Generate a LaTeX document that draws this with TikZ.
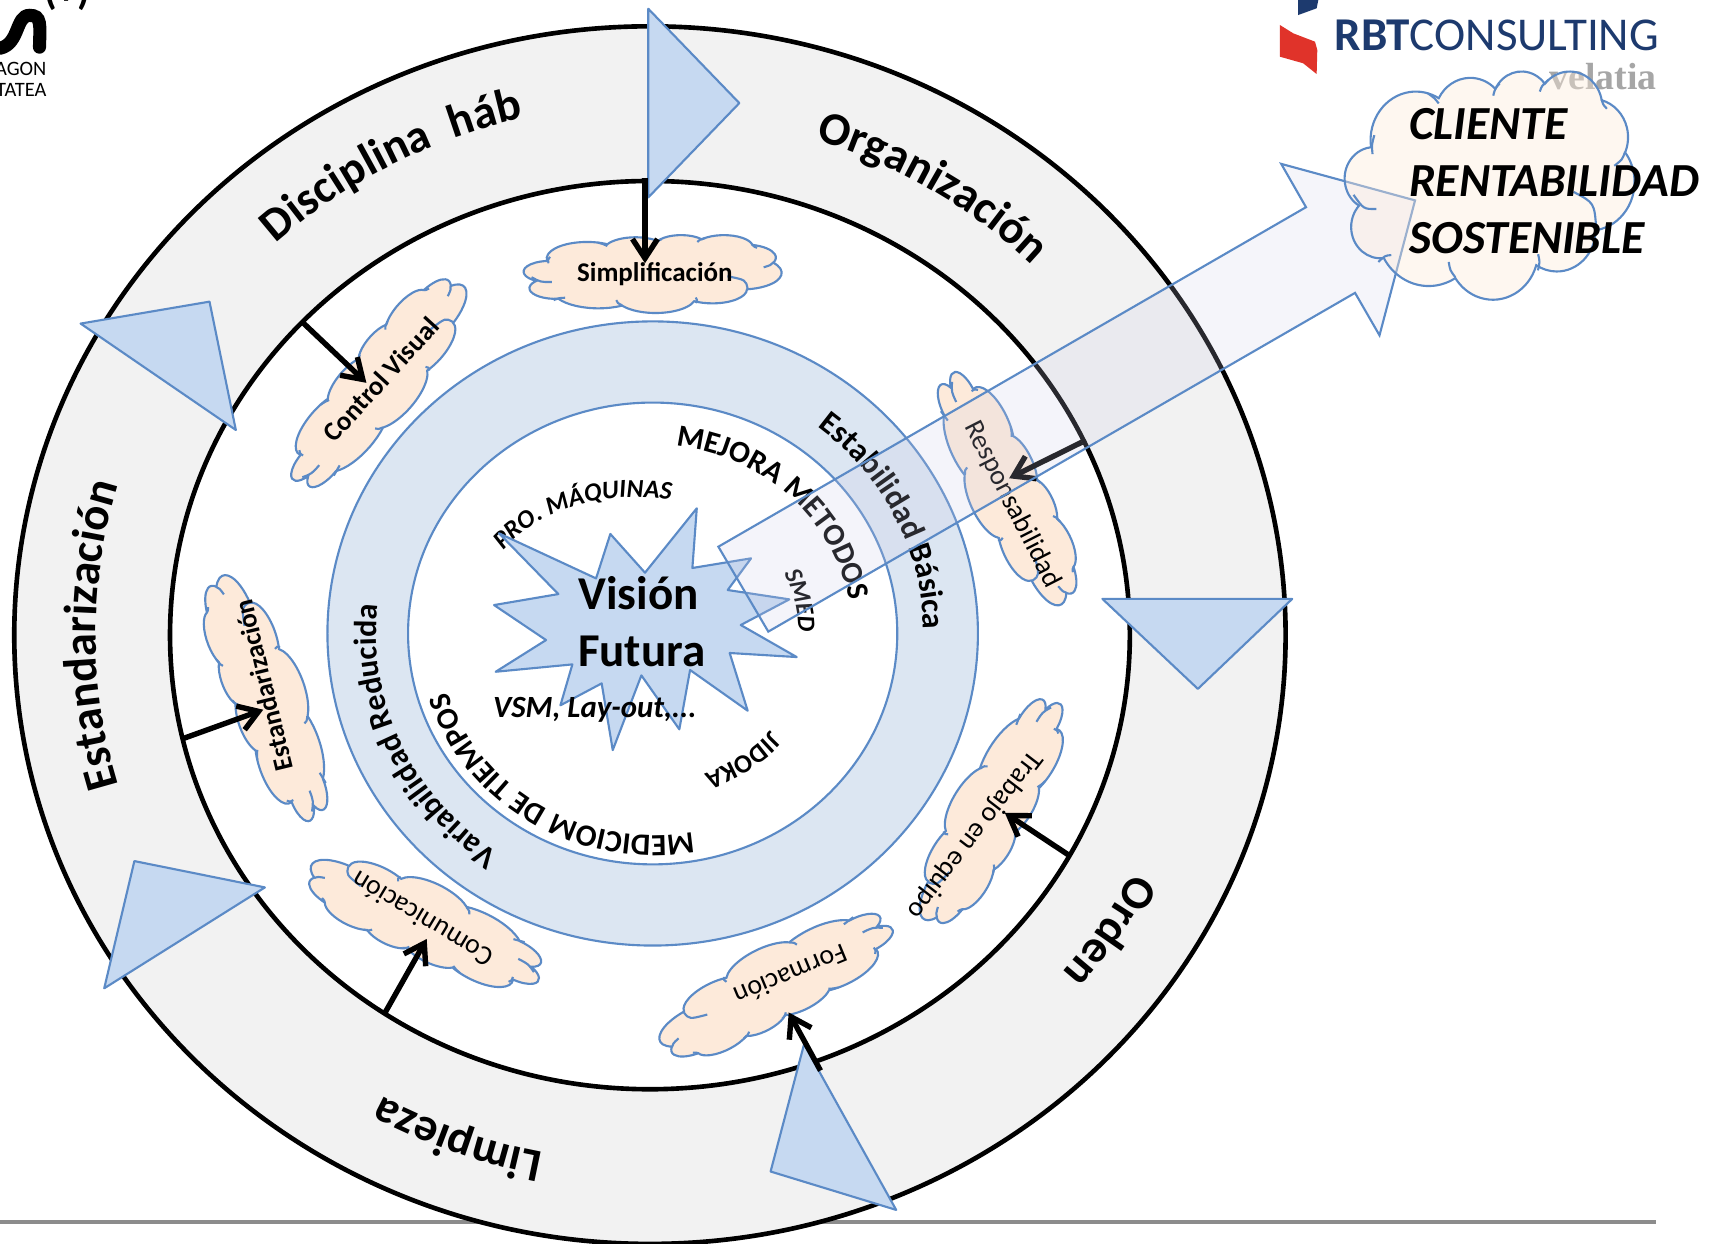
\documentclass[tikz,border=0pt]{standalone}
\usepackage{fontspec}
\setmainfont{Carlito}
\newfontfamily\logoserif{Liberation Serif}
\usetikzlibrary{arrows.meta}
\usetikzlibrary{decorations.text}
\definecolor{ringgray}{HTML}{F2F2F2}
\definecolor{bandblue}{HTML}{DCE6F2}
\definecolor{shapeblue}{HTML}{C6D9F1}
\definecolor{edgeblue}{HTML}{5B8AC6}
\definecolor{cloudpeach}{HTML}{FDEADA}
\definecolor{arrowtint}{HTML}{CCCCE6}
\definecolor{logoblue}{HTML}{1D3A6E}
\definecolor{logored}{HTML}{E0332A}
\newcommand{\ringfont}{\fontsize{12.1}{14}\selectfont\bfseries}
\newcommand{\bandfont}{\fontsize{8.3}{10}\selectfont\bfseries}
\newcommand{\capsfont}{\fontsize{8}{10}\selectfont\bfseries}
\newcommand{\cloudbold}{\fontsize{7}{9}\selectfont\bfseries}
\newcommand{\cloudreg}{\fontsize{7.2}{9}\selectfont}
\newcommand{\arclabel}[6]{\path[decorate,decoration={text along path,text align=center,text={|#5|#6}}] (#1) ++({#4-60}:#2 and #3) arc[start angle={#4-60},end angle={#4+60},x radius=#2,y radius=#3];}
\newcommand{\cloudoutline}{(39,143.7)
  arc[start angle=-187.74,end angle=-59.63,x radius=67.53,y radius=91.9]
  arc[start angle=-152.03,end angle=-45.45,x radius=53.33,y radius=72.67]
  arc[start angle=-153.48,end angle=-37.33,x radius=43.65,y radius=59.45]
  arc[start angle=-139.71,end angle=-10.21,x radius=48.57,y radius=65.95]
  arc[start angle=-74.77,end angle=23.22,x radius=53.33,y radius=72.73]
  arc[start angle=-37.53,end angle=81.86,x radius=67.75,y radius=92.2]
  arc[start angle=0.46,end angle=121.99,x radius=57.85,y radius=78.67]
  arc[start angle=16.85,end angle=146.26,x radius=67.52,y radius=92.15]
  arc[start angle=59.03,end angle=150.18,x radius=77.2,y radius=105.43]
  arc[start angle=-276.69,end angle=-136.89,x radius=43.6,y radius=59.18]
  arc[start angle=-239.67,end angle=-95.89,x radius=43.45,y radius=59.45]}
\newcommand{\cloudhooks}{(46.9,261.8) .. controls (28,262) .. (13,235)
  (69.3,349) .. controls (60,350) .. (50,362)
  (164.8,390.9) .. controls (157,378) .. (155,362)
  (288.3,347.5) .. controls (291,362) .. (288,378)
  (341.3,229.5) .. controls (372,250) .. (375,297)
  (418,153.5) .. controls (414,168) .. (402,180)
  (383.2,54.3) .. controls (385,64) .. (391,72)
  (290.8,39.5) .. controls (294,28) .. (304,17)
  (221.4,47.2) .. controls (224,34) .. (231,24)
  (140,61.9) .. controls (134,52) .. (124,43)
  (41.3,157.9) .. controls (40,140) .. (44,122)}
\newcommand{\cloudat}[6]{\begin{scope}[shift={(#1,#2)},rotate=#5,xscale=#3/432,yscale=#4/432,shift={(-216,-216)}]
  \draw[cloudline,#6] \cloudoutline -- cycle;
  \draw[edgeline] \cloudhooks;
  \end{scope}}
\tikzset{
  ringline/.style={draw=black,line width=1.2pt},
  edgeline/.style={draw=edgeblue,line width=0.55pt},
  cloudline/.style={edgeline,fill=cloudpeach},
  wedge/.style={edgeline,fill=shapeblue,line join=round},
  spoke/.style={line width=1.4pt,-{Straight Barb[length=5pt,width=6.5pt]}}
}
\begin{document}
\begin{tikzpicture}[x=0.01cm,y=-0.01cm]
\useasboundingbox (0,0) rectangle (1568,1134);
\coordinate (ctr) at (592.5,579);
\coordinate (mid) at (595,577.5);
% page rule and logos
\draw[draw=black!45,line width=0.8pt] (0,1114) -- (1510,1114);
\draw[line width=3.4pt,line cap=round] (0,44) .. controls (18,40) and (14,14) .. (27,14) .. controls (38,14) and (36.5,22) .. (36,43);
\node[anchor=east,inner sep=0pt,font=\fontsize{5.3}{6}\selectfont] (agon) at (43,63) {AGON};
\node[anchor=east,inner sep=0pt,font=\fontsize{5.3}{6}\selectfont] (tatea) at (43,82) {TATEA};
\node[inner sep=0pt,font=\fontsize{10.5}{12}\selectfont\bfseries] (plus) at (61,-7) {(+)};
\fill[logoblue] (1183.5,0) -- (1201.8,0) -- (1200.3,7.6) -- (1183.5,13.7) -- cycle;
\fill[logored] (1166.8,22.8) -- (1179,30.4) -- (1198.8,38) -- (1200.9,45.6) -- (1200.3,67.5) -- (1188,57.7) -- (1166.8,51.7) -- cycle;
\node[anchor=west,inner sep=0pt,text=logoblue,font=\fontsize{12.2}{14}\selectfont] (rbt) at (1216,32) {\textbf{RBT}CONSULTING};
\node[anchor=east,inner sep=0pt,text=black!35,font=\logoserif\fontsize{9.8}{12}\selectfont\bfseries] (velatia) at (1511,70) {velatia};
% rings
\draw[ringline,fill=ringgray] (ctr) ellipse [x radius=579.5,y radius=555];
\draw[ringline,fill=white] (ctr) ellipse [x radius=437.5,y radius=414];
\draw[edgeline,fill=bandblue] (mid) ellipse [x radius=296.5,y radius=284.5];
\draw[edgeline,fill=white] (mid) ellipse [x radius=223,y radius=210.5];
% ring and band texts
\arclabel{ctr}{505}{484}{-118.5}{\ringfont}{Disciplina{\ } háb}
\arclabel{ctr}{495}{474}{-58}{\ringfont}{Organización}
\arclabel{ctr}{494}{474}{33}{\ringfont}{Orden}
\arclabel{ctr}{502}{481}{110.7}{\ringfont}{Limpieza}
\arclabel{ctr}{505}{484}{180}{\ringfont}{Estandarización}
\arclabel{mid}{247}{237}{-26.2}{\bandfont}{Estabilidad Básica}
\arclabel{mid}{252}{241}{155.5}{\bandfont}{Variabilidad Reducida}
\arclabel{mid}{182}{172}{-46}{\capsfont}{MEJORA METODOS}
\arclabel{mid}{195}{184}{121.7}{\capsfont}{MEDICIOM DE TIEMPOS}
\arclabel{mid}{143}{135}{55}{\fontsize{6.8}{8}\selectfont\bfseries}{JIDOKA}
\arclabel{mid}{133}{126}{-12.7}{\fontsize{6.5}{8}\selectfont\bfseries\itshape}{SMED}
\path[decorate,decoration={text along path,text align=center,text={|\fontsize{6.7}{9}\selectfont\bfseries\itshape|PRO. MÁQUINAS}}] (456,505) .. controls (485,470) and (540,445) .. (616,456);
% clouds
\cloudat{595}{249.6}{235}{71}{0}{}
\cloudat{346}{350}{235}{70}{48.8}{}
\cloudat{244}{636}{237}{70}{-250.3}{}
\cloudat{388}{840}{232}{70}{-206.7}{}
\cloudat{707}{897}{235}{70}{-154}{}
\cloudat{903}{739}{232}{70}{-122}{}
\cloudat{917}{446}{233}{70}{-65}{}
\node[inner sep=0pt,font=\cloudbold] (simp) at (597,250) {Simplificación};
\node[inner sep=0pt,font=\cloudbold,rotate=47.5] (ctrl) at (347,346) {Control Visual};
\node[inner sep=0pt,font=\cloudbold,rotate=103.7] (estd) at (240,625) {Estandarización};
\node[inner sep=0pt,font=\cloudreg,rotate=149] (comu) at (385,838) {Comunicación};
\node[inner sep=0pt,font=\cloudreg,rotate=202.4] (form) at (721,889) {Formación};
\node[inner sep=0pt,font=\cloudreg,rotate=232.4] (trab) at (888,761) {Trabajo en equipo};
\node[inner sep=0pt,font=\cloudreg,rotate=-63] (resp) at (923,460) {Responsabilidad};
% star
\draw[wedge] (454.9,486.2) -- (543.4,527.3) -- (556.4,486.8) -- (588,522.1) -- (635.2,463.4) -- (631.2,517.8) -- (684.7,509) -- (663.4,537.9) -- (719.6,546.4) -- (675.3,569.8) -- (726.3,599) -- (665.2,595.3) -- (681.6,647.9) -- (629.1,610.8) -- (619.3,664.9) -- (584.7,615.7) -- (558.6,683.8) -- (548.5,623) -- (510.9,643) -- (521.8,605.7) -- (451.9,612.4) -- (497.8,583.5) -- (450.4,551.6) -- (509,541.6) -- cycle;
\node[inner sep=0pt,font=\fontsize{12.2}{14}\selectfont\bfseries] (vision) at (582,541) {Visión};
\node[inner sep=0pt,font=\fontsize{12.2}{14}\selectfont\bfseries] (futura) at (585,594) {Futura};
\node[inner sep=0pt,font=\fontsize{8}{10}\selectfont\bfseries\itshape] (vsm) at (542.4,647) {VSM, Lay-out,...};
% triangles on the ring
\draw[wedge] (591,8) -- (674,94) -- (591,180) -- cycle;
\draw[wedge] (73.5,295) -- (191,275) -- (215,392) -- cycle;
\draw[wedge] (1005,546) -- (1178,546) -- (1092,628) -- cycle;
\draw[wedge] (702.5,1068) -- (733,952) -- (817,1103) -- cycle;
\draw[wedge] (122.5,785) -- (241.5,809) -- (95,901) -- cycle;
% arrows from the ring
\coordinate (fromsimp) at (588,162);
\coordinate (tosimp) at (588,240);
\coordinate (fromctrl) at (276,294);
\coordinate (toctrl) at (334,349);
\coordinate (fromestd) at (165,674);
\coordinate (toestd) at (240,647);
\coordinate (fromcomu) at (350,925);
\coordinate (tocomu) at (389,856);
\coordinate (fromform) at (748,976);
\coordinate (toform) at (719,923);
\coordinate (fromtrab) at (975,780);
\coordinate (totrab) at (916,741);
\coordinate (fromresp) at (986.5,403);
\coordinate (toresp) at (920,436);
\draw[spoke] (fromsimp) -- (tosimp);
\draw[spoke] (fromctrl) -- (toctrl);
\draw[spoke] (fromestd) -- (toestd);
\draw[spoke] (fromcomu) -- (tocomu);
\draw[spoke] (fromform) -- (toform);
\draw[spoke] (fromtrab) -- (totrab);
\draw[spoke] (fromresp) -- (toresp);
% big arrow to the client
\draw[edgeline,fill=arrowtint,fill opacity=0.2] (654.9,498.4) -- (1190.6,188.9) -- (1168,149.4) -- (1290,182.7) -- (1257.6,305.7) -- (1235.3,267) -- (700.4,575.8) -- cycle;
\cloudat{1358}{168.5}{264}{208}{0}{fill opacity=0.4}
\node[anchor=west,inner sep=0pt,font=\fontsize{12.3}{14}\selectfont\bfseries\itshape] (cliente) at (1284,113) {CLIENTE};
\node[anchor=west,inner sep=0pt,font=\fontsize{12.3}{14}\selectfont\bfseries\itshape] (rent) at (1284,165) {RENTABILIDAD};
\node[anchor=west,inner sep=0pt,font=\fontsize{12.3}{14}\selectfont\bfseries\itshape] (sost) at (1284,217) {SOSTENIBLE};
\end{tikzpicture}
\end{document}
